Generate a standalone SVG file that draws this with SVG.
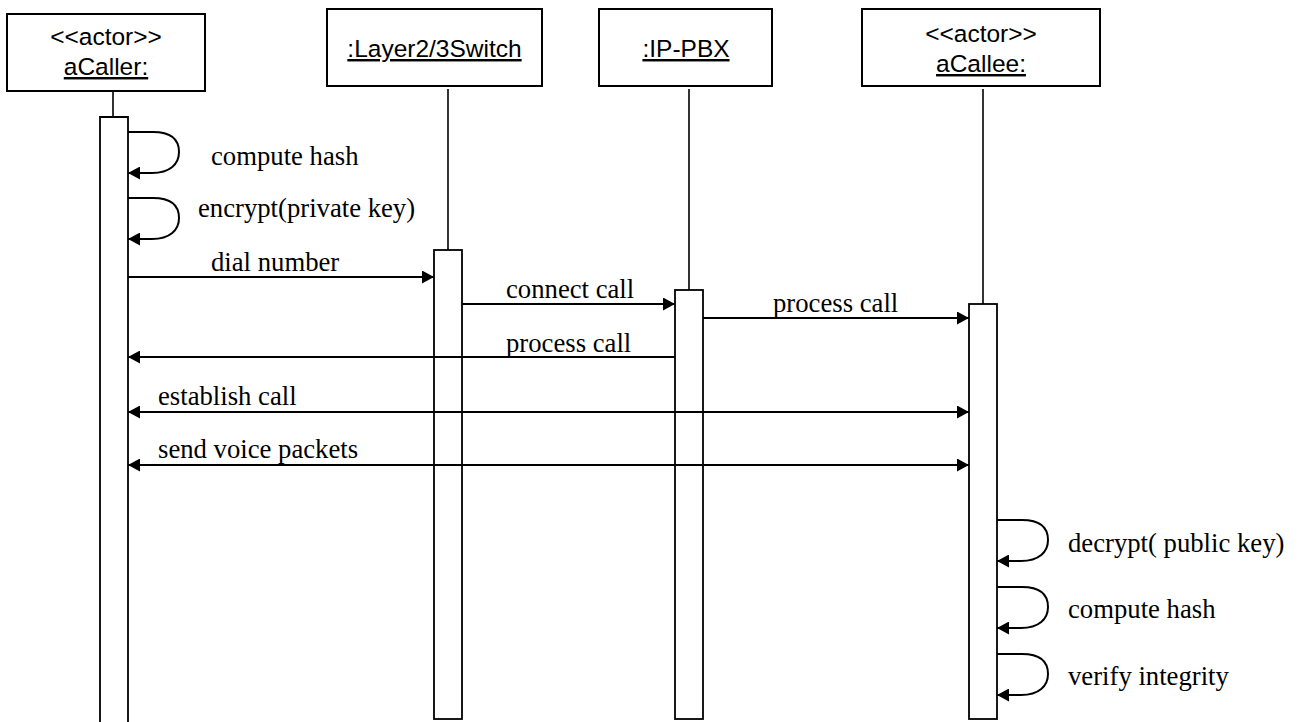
<svg xmlns="http://www.w3.org/2000/svg" width="1299" height="722" viewBox="0 0 1299 722">
  <style>
    .box { fill: #fff; stroke: #000; stroke-width: 2; }
    .life { stroke: #000; stroke-width: 1.6; fill: none; }
    .act { fill: #fff; stroke: #000; stroke-width: 1.8; }
    .msg { stroke: #000; stroke-width: 2; fill: none; }
    .obj { font-family: "Liberation Sans", Arial, sans-serif; font-size: 24.5px; fill: #000; text-anchor: middle; }
    .u { text-decoration: underline; }
    .lbl { font-family: "Liberation Serif", "Times New Roman", serif; font-size: 26.7px; fill: #000; }
  </style>
  <defs>
    <marker id="arrow" viewBox="0 0 12 13" refX="12" refY="6.5" markerWidth="12" markerHeight="13" markerUnits="userSpaceOnUse" orient="auto-start-reverse">
      <path d="M0,0 L12,6.5 L0,13 Z" fill="#000"/>
    </marker>
  </defs>
  <rect width="1299" height="722" fill="#fff"/>

  <!-- aCaller -->
  <g id="aCaller">
    <rect class="box" x="7" y="14" width="198" height="77"/>
    <text class="obj" x="106" y="45">&lt;&lt;actor&gt;&gt;</text>
    <text class="obj u" x="106" y="75">aCaller:</text>
    <line class="life" x1="113" y1="91" x2="113" y2="117"/>
    <path class="act" d="M100,722 L100,117 L128,117 L128,722"/>
  </g>

  <!-- Layer2/3 switch -->
  <g id="switch">
    <rect class="box" x="327" y="9" width="215" height="77"/>
    <text class="obj u" x="434.5" y="57">:Layer2/3Switch</text>
    <line class="life" x1="448" y1="89" x2="448" y2="250"/>
    <rect class="act" x="434" y="250" width="28" height="469"/>
  </g>

  <!-- IP-PBX -->
  <g id="ippbx">
    <rect class="box" x="599" y="9" width="173" height="77"/>
    <text class="obj u" x="686" y="57">:IP-PBX</text>
    <line class="life" x1="689" y1="89" x2="689" y2="290"/>
    <rect class="act" x="675" y="290" width="28" height="429"/>
  </g>

  <!-- aCallee -->
  <g id="aCallee">
    <rect class="box" x="862" y="9" width="238" height="77"/>
    <text class="obj" x="981" y="42">&lt;&lt;actor&gt;&gt;</text>
    <text class="obj u" x="981" y="72">aCallee:</text>
    <line class="life" x1="983" y1="89" x2="983" y2="304"/>
    <rect class="act" x="969" y="304" width="28" height="415"/>
  </g>

  <!-- messages -->
  <g id="connectors">
    <!-- caller self calls -->
    <path class="msg" marker-end="url(#arrow)" d="M128,132 L153,132 C172,132 179,140 179,152 C179,164 170,173 152,173 L128,173"/>
    <path class="msg" marker-end="url(#arrow)" d="M128,198 L153,198 C172,198 179,206 179,218 C179,230 170,239 152,239 L128,239"/>

    <line class="msg" marker-end="url(#arrow)" x1="128" y1="277" x2="434" y2="277"/>
    <line class="msg" marker-end="url(#arrow)" x1="462" y1="304" x2="675" y2="304"/>
    <line class="msg" marker-end="url(#arrow)" x1="703" y1="318" x2="969" y2="318"/>
    <line class="msg" marker-end="url(#arrow)" x1="675" y1="357" x2="128" y2="357"/>
    <line class="msg" marker-start="url(#arrow)" marker-end="url(#arrow)" x1="128" y1="412" x2="969" y2="412"/>
    <line class="msg" marker-start="url(#arrow)" marker-end="url(#arrow)" x1="128" y1="465" x2="969" y2="465"/>

    <!-- callee self calls -->
    <path class="msg" marker-end="url(#arrow)" d="M997,520 L1022,520 C1041,520 1048,528 1048,540 C1048,552 1039,561 1021,561 L997,561"/>
    <path class="msg" marker-end="url(#arrow)" d="M997,587 L1022,587 C1041,587 1048,595 1048,607 C1048,619 1039,628 1021,628 L997,628"/>
    <path class="msg" marker-end="url(#arrow)" d="M997,654 L1022,654 C1041,654 1048,662 1048,674 C1048,686 1039,695 1021,695 L997,695"/>
  </g>

  <!-- message labels -->
  <g id="labels">
    <text class="lbl" x="211" y="165">compute hash</text>
    <text class="lbl" x="198" y="217">encrypt(private key)</text>
    <text class="lbl" x="211" y="271">dial number</text>
    <text class="lbl" x="506" y="298">connect call</text>
    <text class="lbl" x="773" y="312">process call</text>
    <text class="lbl" x="506" y="352">process call</text>
    <text class="lbl" x="158" y="405">establish call</text>
    <text class="lbl" x="158" y="458">send voice packets</text>
    <text class="lbl" x="1068" y="552">decrypt( public key)</text>
    <text class="lbl" x="1068" y="618">compute hash</text>
    <text class="lbl" x="1068" y="685">verify integrity</text>
  </g>
</svg>
